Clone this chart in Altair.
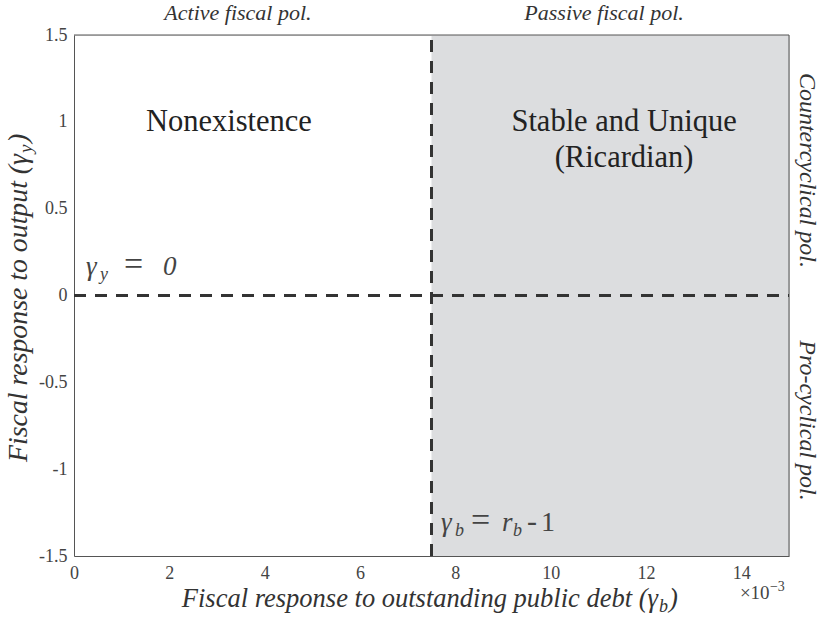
import altair as alt
import pandas as pd

# ---- values -------------------------------------------------------------
x_domain = [0.0, 0.015]          # fiscal response to debt, gamma_b
y_domain = [-1.5, 1.5]           # fiscal response to output, gamma_y
gamma_b_bound = 0.0075           # gamma_b = r_b - 1
gamma_y_bound = 0.0              # gamma_y = 0
x_ticks = [0.0, 0.002, 0.004, 0.006, 0.008, 0.010, 0.012, 0.014]
y_ticks = [-1.5, -1.0, -0.5, 0.0, 0.5, 1.0, 1.5]

region_text = ["Nonexistence", "Stable and Unique", "(Ricardian)"]
region_x = [0.00325, 0.01154, 0.01154]
region_y = [1.0, 1.0, 0.79]

regime_text = ["Active fiscal pol.", "Passive fiscal pol."]
regime_x = [0.00344, 0.01112]
regime_y = [1.586, 1.586]

cycle_text = ["Countercyclical pol.", "Pro-cyclical pol."]
cycle_x = [0.01523, 0.01523]
cycle_y = [0.72, -0.72]

# ---- styling ------------------------------------------------------------
FONT = "'Liberation Serif', 'Times New Roman', 'DejaVu Serif', serif"
INK = "#333333"
FRAME = "#555555"

xscale = alt.Scale(domain=x_domain, nice=False, zero=False)
yscale = alt.Scale(domain=y_domain, nice=False, zero=False)
xaxis = alt.Axis(values=x_ticks, labelExpr="toString(round(datum.value * 1000))",
                 title=None, grid=False, ticks=False, labelPadding=8,
                 labelFont=FONT, labelFontSize=18, labelColor="#444444",
                 domainColor=FRAME, labelFlush=False)
yaxis = alt.Axis(values=y_ticks, labelExpr="toString(datum.value)",
                 title=None, grid=False, ticks=False, labelPadding=7,
                 labelFont=FONT, labelFontSize=18, labelColor="#444444",
                 domainColor=FRAME, labelFlush=False)


def X(field="x"):
    return alt.X(f"{field}:Q", scale=xscale, axis=xaxis)


def Y(field="y"):
    return alt.Y(f"{field}:Q", scale=yscale, axis=yaxis)


def piece(text, x, y, dx=0, dy=0, size=24, style="italic", align="left",
          angle=0, baseline="alphabetic", color=INK):
    df = pd.DataFrame({"x": [x], "y": [y], "t": [text]})
    return alt.Chart(df).mark_text(
        align=align, baseline=baseline, dx=dx, dy=dy, fontSize=size,
        fontStyle=style, font=FONT, angle=angle, color=color
    ).encode(x=X(), y=Y(), text="t:N")


# ---- shaded passive / Ricardian region ----------------------------------
shade_df = pd.DataFrame({"x": [gamma_b_bound], "x2": [x_domain[1]],
                         "y": [y_domain[0]], "y2": [y_domain[1]]})
shade = alt.Chart(shade_df).mark_rect(color="#dcdddf").encode(
    x=X(), x2="x2:Q", y=Y(), y2="y2:Q")

# ---- frame on top and right ---------------------------------------------
frame_df = pd.DataFrame({"x": [x_domain[0], x_domain[1]],
                         "x2": [x_domain[1], x_domain[1]],
                         "y": [y_domain[1], y_domain[0]],
                         "y2": [y_domain[1], y_domain[1]]})
frame = alt.Chart(frame_df).mark_rule(color=FRAME, strokeWidth=1).encode(
    x=X(), x2="x2:Q", y=Y(), y2="y2:Q")

# ---- dashed boundaries --------------------------------------------------
vline_df = pd.DataFrame({"x": [gamma_b_bound], "y": [y_domain[0]], "y2": [y_domain[1]]})
vline = alt.Chart(vline_df).mark_rule(
    color=INK, strokeWidth=3, strokeDash=[12, 9]).encode(x=X(), y=Y(), y2="y2:Q")

hline_df = pd.DataFrame({"x": [x_domain[0]], "x2": [x_domain[1]], "y": [gamma_y_bound]})
hline = alt.Chart(hline_df).mark_rule(
    color=INK, strokeWidth=3, strokeDash=[12, 9]).encode(x=X(), x2="x2:Q", y=Y())

# ---- region labels ------------------------------------------------------
regions = alt.Chart(pd.DataFrame({"x": region_x, "y": region_y, "t": region_text})).mark_text(
    font=FONT, fontSize=30.5, color="#222222", align="center", baseline="middle"
).encode(x=X(), y=Y(), text="t:N")

regimes = alt.Chart(pd.DataFrame({"x": regime_x, "y": regime_y, "t": regime_text})).mark_text(
    font=FONT, fontSize=22, fontStyle="italic", color=INK, align="center", baseline="alphabetic"
).encode(x=X(), y=Y(), text="t:N")

cycles = alt.Chart(pd.DataFrame({"x": cycle_x, "y": cycle_y, "t": cycle_text})).mark_text(
    font=FONT, fontSize=24, fontStyle="italic", color=INK, align="center",
    baseline="alphabetic", angle=90
).encode(x=X(), y=Y(), text="t:N")

# ---- boundary equations -------------------------------------------------
EQ = "#444444"
gy_x, gy_y = 0.000252, 0.118
gamma_y_eq = [
    piece("γ", gy_x, gy_y, dx=0, size=27, color=EQ),
    piece("y", gy_x, gy_y, dx=14, dy=5, size=18, color=EQ),
    piece("=", gy_x, gy_y, dx=38, size=34, style="normal", color=EQ),
    piece("0", gy_x, gy_y, dx=77, size=27, color=EQ),
]

gb_x, gb_y = 0.0077, -1.356
gamma_b_eq = [
    piece("γ", gb_x, gb_y, dx=0, size=27, color=EQ),
    piece("b", gb_x, gb_y, dx=14, dy=5, size=18, color=EQ),
    piece("=", gb_x, gb_y, dx=30, size=34, style="normal", color=EQ),
    piece("r", gb_x, gb_y, dx=61, size=27, color=EQ),
    piece("b", gb_x, gb_y, dx=72, dy=5, size=18, color=EQ),
    piece("-", gb_x, gb_y, dx=86, size=30, style="normal", color=EQ),
    piece("1", gb_x, gb_y, dx=100, size=28, style="normal", color=EQ),
]

# ---- axis titles with subscripts ----------------------------------------
xt_x, xt_y = 0.01225, -1.794
x_title = [
    piece("Fiscal response to outstanding public debt (γ", xt_x, xt_y, align="right", size=26.5),
    piece("b", xt_x, xt_y, dx=1, dy=5, size=18),
    piece(")", xt_x, xt_y, dx=11, size=26.5),
]

yt_x, yt_y = -0.000986, 0.815
y_title = [
    piece("Fiscal response to output (γ", yt_x, yt_y, align="right", size=27.8, angle=270),
    piece("y", yt_x, yt_y, dx=1, dy=5, size=19, angle=270),
    piece(")", yt_x, yt_y, dx=11, size=27.8, angle=270),
]

# axis multiplier for the x tick labels
mx, my = 0.01397, -1.748
multiplier = [
    piece("×10", mx, my, size=19, style="normal", color=EQ),
    piece("−3", mx, my, dx=30, dy=-8, size=14, style="normal", color=EQ),
]

chart = alt.layer(
    shade, frame, vline, hline, regions, regimes, cycles,
    *gamma_y_eq, *gamma_b_eq, *x_title, *y_title, *multiplier
).properties(
    width=715, height=521,
    autosize=alt.AutoSizeParams(type="none"),
    padding={"left": 74, "top": 35, "right": 31, "bottom": 61},
).configure_view(
    stroke=None
).configure(background="white")

chart.save("out.html", embed_options={"renderer": "svg", "actions": False})
